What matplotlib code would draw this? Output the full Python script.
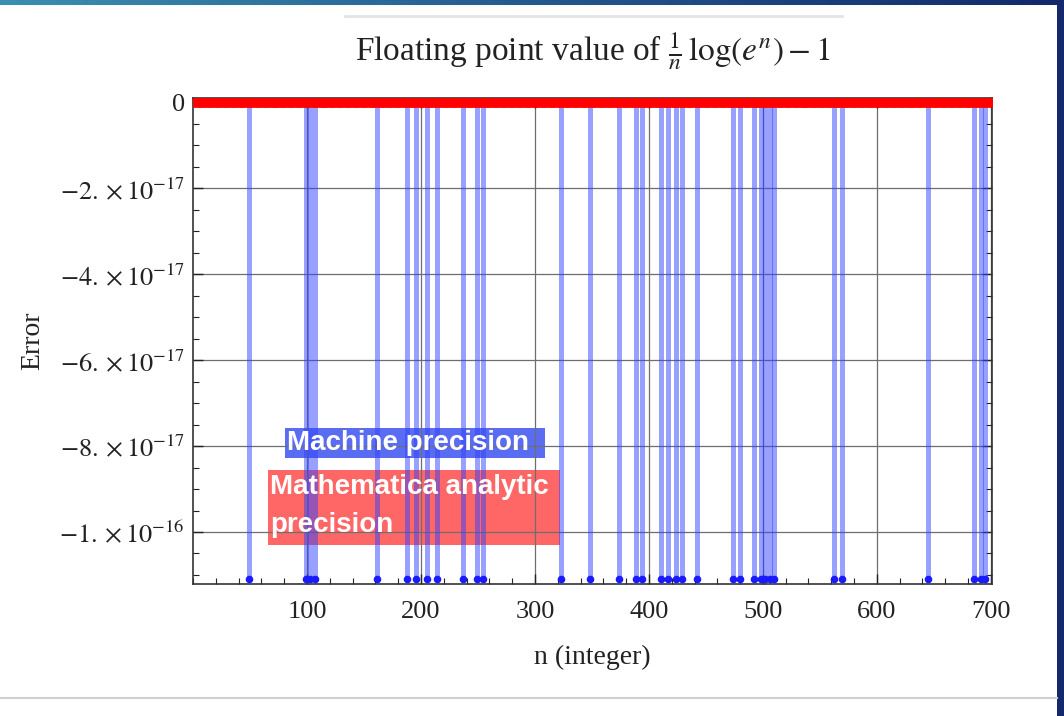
import numpy as np
import matplotlib
matplotlib.use("Agg")
import matplotlib.pyplot as plt
from matplotlib.patches import Rectangle
from matplotlib.ticker import MultipleLocator, FixedLocator
from matplotlib.colors import LinearSegmentedColormap

plt.rcParams['font.family'] = ['Liberation Serif', 'DejaVu Serif']
plt.rcParams['mathtext.fontset'] = 'stix'

# ---- data ----
n_all = np.arange(1, 701)                      # integers n = 1..700
analytic_err = np.zeros(len(n_all))            # Mathematica analytic precision: exactly 0
n_machine_err = [49, 99, 103, 107, 161, 188, 196, 205, 214, 237, 249, 254,
                 323, 348, 374, 389, 394, 411, 417, 424, 429, 442, 474, 480,
                 492, 498, 502, 506, 510, 562, 569, 645, 685, 691, 695]
machine_err_value = -1.11e-16                  # error at those n (machine precision)
yticks = [0, -2e-17, -4e-17, -6e-17, -8e-17, -1e-16]
ytick_labels = ['0', r'$-2.\times10^{-17}$', r'$-4.\times10^{-17}$',
                r'$-6.\times10^{-17}$', r'$-8.\times10^{-17}$', r'$-1.\times10^{-16}$']
xticks = [100, 200, 300, 400, 500, 600, 700]

fig = plt.figure(figsize=(10.64, 7.16), dpi=100)
fig.patch.set_facecolor('white')

ax = fig.add_axes([193/1064, 1-584/716, (992-193)/1064, (584-98)/716])

# grid
for x in xticks:
    ax.axvline(x, color='#6e6e6e', lw=0.9, zorder=0.5)
for y in yticks:
    ax.axhline(y, color='#6e6e6e', lw=0.9, zorder=0.5)

# legend boxes (behind the spikes)
ax.add_patch(Rectangle((0.115, 0.2593), 0.4406-0.115, 0.321-0.2593, transform=ax.transAxes,
                       facecolor='#5a6cf2', edgecolor='none', zorder=0.3))
ax.add_patch(Rectangle((0.0939, 0.0802), 0.4593-0.0939, 0.2346-0.0802, transform=ax.transAxes,
                       facecolor='#ff6666', edgecolor='none', zorder=0.3))

# machine precision: spikes + dots
y_err = np.full(len(n_machine_err), machine_err_value)
ax.vlines(n_machine_err, 0, y_err, colors='#3344ff', alpha=0.5, lw=3.6, zorder=2)
ax.scatter(n_machine_err, y_err, s=30, color='#1a1aff', zorder=3, linewidths=0)

# analytic precision: red points at zero
ax.scatter(n_all, analytic_err, s=55, color='#ff0000', zorder=4, linewidths=0, clip_on=True)

ax.set_xlim(0, 701)
ax.set_ylim(-1.121e-16, 0.1e-17)

ax.xaxis.set_major_locator(FixedLocator(xticks))
ax.xaxis.set_minor_locator(MultipleLocator(20))
ax.yaxis.set_major_locator(FixedLocator(yticks))
ax.yaxis.set_minor_locator(MultipleLocator(0.5e-17))
ax.set_xticklabels([str(x) for x in xticks])
ax.set_yticklabels(ytick_labels)
ax.tick_params(which='both', direction='in', top=True, right=True, colors='#222222',
               labelcolor='#222222', labelsize=19)
ax.tick_params(which='major', length=7, width=1.0)
ax.tick_params(which='minor', length=4, width=0.8)
ax.tick_params(axis='x', pad=12)
ax.tick_params(axis='y', pad=6)
for s in ax.spines.values():
    s.set_color('#333333')
    s.set_linewidth(1.2)

ax.set_xlabel('n (integer)', fontsize=20, labelpad=16, color='#222222')
ax.set_ylabel('Error', fontsize=20, labelpad=10, color='#222222')
ax.set_title(r'Floating point value of $\frac{1}{n}\,\log(e^{n}) - 1$', fontsize=24,
             pad=26, color='#222222')

# legend texts
tkw = dict(transform=ax.transAxes, color='white', fontweight='bold', fontsize=20,
           family=['Liberation Sans', 'DejaVu Sans'], va='center', ha='left', zorder=6)
ax.text(0.1176, 0.2901, 'Machine precision', **tkw)
ax.text(0.0964, 0.1996, 'Mathematica analytic', **tkw)
ax.text(0.0964, 0.1214, 'precision', **tkw)

# page decoration
grad = fig.add_axes([0, 1-5/716, 1, 5/716])
g = np.linspace(0, 1, 256)[None, :]
cm = LinearSegmentedColormap.from_list('g', ['#3a8fb2', '#245a8e', '#12286a'])
grad.imshow(g, aspect='auto', cmap=cm)
grad.axis('off')
fig.add_artist(Rectangle((1057/1064, 0), 7/1064, 1, transform=fig.transFigure,
                         facecolor='#13296b', edgecolor='none'))
fig.add_artist(plt.Line2D([345/1064, 842/1064], [1-16/716, 1-16/716], transform=fig.transFigure,
                          color='#e3e3e6', lw=2))
fig.add_artist(plt.Line2D([0, 1057/1064], [1-698/716, 1-698/716], transform=fig.transFigure,
                          color='#cfcfcf', lw=1.5))

fig.savefig('out.png', dpi=100)
